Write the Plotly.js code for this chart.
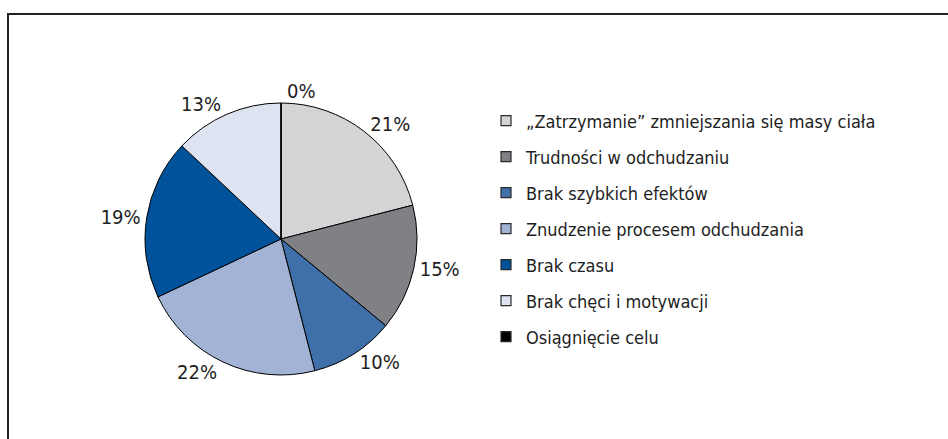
<!DOCTYPE html>
<html><head><meta charset="utf-8">
<script src="https://cdn.plot.ly/plotly-3.0.1.min.js"></script>
<style>html,body{margin:0;padding:0;background:#fff}#c{width:948px;height:439px}</style>
</head><body><div id="c"></div>
<script>
const categories = [
  "„Zatrzymanie” zmniejszania się masy ciała",
  "Trudności w odchudzaniu",
  "Brak szybkich efektów",
  "Znudzenie procesem odchudzania",
  "Brak czasu",
  "Brak chęci i motywacji",
  "Osiągnięcie celu"
];
const values = [21, 15, 10, 22, 19, 13, 0];
const colors = ["#d3d4d6", "#808184", "#3f70aa", "#a3b3d6", "#00539a", "#dde3f0", "#000000"];

const FONT = "'DejaVu Sans Condensed', 'Liberation Sans Narrow', 'Liberation Sans', sans-serif";
const W = 948, H = 439;

const pie = {
  type: 'pie',
  labels: categories,
  values: values,
  sort: false,
  direction: 'clockwise',
  rotation: 0,
  marker: {colors: colors, line: {color: '#000', width: 1}},
  texttemplate: '%{value}%',
  textposition: 'outside',
  textfont: {family: FONT, size: 20, color: '#1e1e1e'},
  showlegend: false,
  hoverinfo: 'label+percent',
  domain: {x: [(281-136)/W, (281+136)/W], y: [1-(239+136)/H, 1-(239-136)/H]}
};

const legendTraces = categories.map((c, i) => ({
  type: 'scatter', mode: 'markers', x: [null], y: [null],
  name: c, legendgroup: 'g' + i, showlegend: true,
  marker: {symbol: 'square', size: 10, color: colors[i], line: {color: '#2a2a2a', width: 1.2}},
  hoverinfo: 'skip'
}));

const layout = {
  width: W, height: H,
  margin: {l: 0, r: 0, t: 0, b: 0},
  paper_bgcolor: '#fff', plot_bgcolor: '#fff',
  font: {family: FONT, size: 18, color: '#1e1e1e'},
  xaxis: {visible: false}, yaxis: {visible: false},
  showlegend: true,
  legend: {x: 486/W, y: 1-102.5/H, xanchor: 'left', yanchor: 'top',
           tracegroupgap: 9.6, itemwidth: 30, font: {family: FONT, size: 18, color: '#1e1e1e'},
           bgcolor: 'rgba(0,0,0,0)'},
  shapes: [{type: 'rect', xref: 'paper', yref: 'paper',
            x0: 8/W, x1: 1.02, y0: -0.02, y1: 1-14/H,
            line: {color: '#222', width: 2}}]
};

Plotly.newPlot('c', [pie].concat(legendTraces), layout, {displayModeBar: false, staticPlot: true});
</script></body></html>
